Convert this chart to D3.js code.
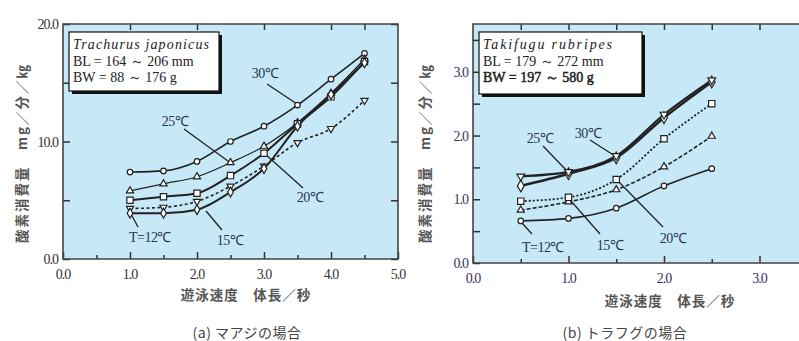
<!DOCTYPE html>
<html>
<head>
<meta charset="utf-8">
<script src="https://cdn.jsdelivr.net/npm/d3@7"></script>
<style>
  body { margin: 0; background: #fff; }
  svg { display: block; }
  .tick-label { font-family: "Liberation Serif", serif; font-size: 14px; fill: #333; letter-spacing: -1px; }
  .temp { font-family: "Liberation Serif", serif; font-size: 14px; fill: #2a3550; letter-spacing: -0.5px; }
  .box-text { font-family: "Liberation Serif", serif; font-size: 14px; fill: #222; }
  .cjk { font-family: "Noto Sans CJK JP", sans-serif; fill: #555; }
</style>
</head>
<body>
<svg id="chart" width="799" height="341"></svg>
<script>
// (a) マアジ  -- speed in body length / s
const speedA = [1.0, 1.5, 2.0, 2.5, 3.0, 3.5, 4.0, 4.5];
const a30 = [7.4, 7.5, 8.3, 10.0, 11.3, 13.1, 15.3, 17.5];
const a25 = [5.8, 6.4, 7.0, 8.2, 9.6, 11.6, 14.1, 17.0];
const a20 = [5.0, 5.3, 5.6, 7.1, 9.0, 11.5, 13.8, 16.8];
const aDot = [4.3, 4.4, 4.9, 6.2, 7.9, 9.9, 11.1, 13.5];
const a15 = [3.9, 3.9, 4.2, 5.7, 7.7, 11.3, 14.0, 16.7];

// (b) トラフグ
const speedB = [0.5, 1.0, 1.5, 2.0, 2.5];
const b12 = [0.66, 0.70, 0.86, 1.21, 1.48];
const b15 = [0.83, 0.96, 1.15, 1.51, 1.99];
const b20 = [0.97, 1.03, 1.31, 1.95, 2.50];
const b25 = [1.21, 1.40, 1.65, 2.28, 2.84];
const b30 = [1.36, 1.43, 1.68, 2.33, 2.87];

const xTicksA = [0, 1, 2, 3, 4, 5];
const yTicksA = [0, 10, 20];
const xTicksB = [0, 1, 2, 3];
const yTicksB = [0, 1, 2, 3];

const svg = d3.select("#chart");
const bg = "#c6e8f7";
const ink = "#222";

function drawPanel(p) {
	const g = svg.append("g");
	const x = d3.scaleLinear().domain(p.xDomain).range(p.xRange);
	const y = d3.scaleLinear().domain(p.yDomain).range(p.yRange);
	const [x0, x1] = p.xRange, [y0, y1] = p.yRange;

	g.append("rect").attr("x", x0).attr("y", y1).attr("width", x1 - x0).attr("height", y0 - y1).attr("fill", bg);

	// inward ticks
	const bottom = d3.axisTop(x).tickValues(d3.range(p.xDomain[0], p.xDomain[1] + 0.01, 0.5))
		.tickSize(0).tickFormat("");
	g.append("g").attr("transform", `translate(0,${y0})`).call(bottom).call(s => s.select(".domain").remove())
		.call(s => s.selectAll("text").remove())
		.selectAll(".tick line").attr("y2", d => (d % 1 === 0 ? -7 : -4)).attr("stroke", "#333").attr("stroke-width", 1.5);
	g.append("g").attr("transform", `translate(0,${y1})`)
		.call(d3.axisBottom(x).tickValues(p.topTicks).tickSize(6).tickFormat(""))
		.call(s => s.select(".domain").remove())
		.call(s => s.selectAll("text").remove())
		.selectAll(".tick line").attr("stroke", "#333").attr("stroke-width", 1.5);
	const yAll = d3.range(p.yDomain[0], p.yDomain[1] + 0.001, p.yMinor);
	g.append("g").attr("transform", `translate(${x0},0)`)
		.call(d3.axisRight(y).tickValues(yAll).tickSize(7).tickFormat(""))
		.call(s => s.select(".domain").remove())
		.call(s => s.selectAll("text").remove())
		.selectAll(".tick line").attr("stroke", "#333").attr("stroke-width", 1.5);
	if (p.rightBorder) {
		g.append("g").attr("transform", `translate(${x1},0)`)
			.call(d3.axisLeft(y).tickValues(yAll).tickSize(7).tickFormat(""))
			.call(s => s.select(".domain").remove())
			.call(s => s.selectAll("text").remove())
			.selectAll(".tick line").attr("stroke", "#333").attr("stroke-width", 1.5);
	}

	// frame
	g.append("path")
		.attr("d", p.rightBorder
			? `M${x0},${y0}V${y1}H${x1}V${y0}Z`
			: `M${x1},${y1}H${x0}V${y0}H${x1}`)
		.attr("fill", "none").attr("stroke", "#444").attr("stroke-width", 1.6);

	// tick labels
	g.selectAll(null).data(p.xTicks).join("text").attr("class", "tick-label")
		.attr("x", d => x(d)).attr("y", y0 + 20).attr("text-anchor", "middle").style("fill", p.labelColor).text(d => d.toFixed(1));
	g.selectAll(null).data(p.yTicks).join("text").attr("class", "tick-label")
		.attr("x", x0 - 5).attr("y", d => y(d) + 5).attr("text-anchor", "end").style("fill", p.labelColor).text(d => d.toFixed(1));

	// series
	const clip = "clip" + p.id;
	g.append("clipPath").attr("id", clip).append("rect")
		.attr("x", x0).attr("y", y1).attr("width", x1 - x0).attr("height", y0 - y1);
	const plot = g.append("g").attr("clip-path", `url(#${clip})`);
	const line = d3.line().curve(d3.curveMonotoneX).x(d => x(d[0])).y(d => y(d[1]));

	// pointer lines under the markers
	p.labels.forEach(l => {
		plot.append("line").attr("x1", l.from[0]).attr("y1", l.from[1]).attr("x2", l.to[0]).attr("y2", l.to[1])
			.attr("stroke", ink).attr("stroke-width", 1.3);
	});

	p.series.forEach(s => {
		const pts = p.speed.map((v, i) => [v, s.values[i]]);
		plot.append("path").datum(pts).attr("d", line).attr("fill", "none")
			.attr("stroke", ink).attr("stroke-width", s.width || 1.6)
			.attr("stroke-dasharray", s.dash || null);
	});
	p.series.forEach(s => {
		const pts = p.speed.map((v, i) => [v, s.values[i]]);
		plot.selectAll(null).data(pts).join("path")
			.attr("transform", d => `translate(${x(d[0])},${y(d[1])}) rotate(${s.rotate || 0})`)
			.attr("d", d3.symbol().type(s.symbol).size(s.size || 26))
			.attr("fill", "#fff").attr("stroke", ink).attr("stroke-width", 1.2);
	});

	p.labels.forEach(l => {
		g.append("text").attr("class", "temp").attr("x", l.at[0]).attr("y", l.at[1])
			.attr("text-anchor", "middle").text(l.text);
	});

	// species box
	const b = p.box;
	g.append("rect").attr("x", b.x + 3).attr("y", b.y + 3).attr("width", b.w).attr("height", b.h).attr("fill", "#111");
	g.append("rect").attr("x", b.x).attr("y", b.y).attr("width", b.w).attr("height", b.h)
		.attr("fill", "#fff").attr("stroke", "#111").attr("stroke-width", 1.2);
	b.lines.forEach((t, i) => {
		g.append("text").attr("class", "box-text").attr("x", b.x + 4).attr("y", b.y + 17 + i * 16.5)
			.style("font-style", i === 0 ? "italic" : "normal")
			.attr("textLength", i === 0 ? b.italicLen : null)
			.attr("lengthAdjust", "spacing")
			.style("stroke", i === 2 && p.id === "b" ? "#222" : null)
			.style("stroke-width", i === 2 && p.id === "b" ? 0.5 : null)
			.text(t);
	});

	// axis titles
	g.append("text").attr("class", "cjk").attr("transform", `translate(${p.yTitle[0]},${p.yTitle[1]}) rotate(-90)`)
		.attr("text-anchor", "middle").attr("dy", "0.35em").style("font-size", "13.5px").style("font-weight", "bold")
		.style("letter-spacing", "2px")
		.text("酸素消費量　mg／分／㎏");
	g.append("text").attr("class", "cjk").attr("x", p.xTitle[0]).attr("y", p.xTitle[1])
		.attr("text-anchor", "middle").style("font-size", "13.5px").style("font-weight", "bold")
		.style("letter-spacing", "1px")
		.text("遊泳速度　体長／秒");
	g.append("text").attr("class", "cjk").attr("x", p.caption[0]).attr("y", p.caption[1])
		.attr("text-anchor", "middle").style("font-size", "14px").style("fill", "#444").style("letter-spacing", "0.5px")
		.text(p.captionText);
}

drawPanel({
	id: "a",
	xDomain: [0, 5], xRange: [63, 398],
	yDomain: [0, 20], yRange: [259, 24], yMinor: 5,
	xTicks: xTicksA, yTicks: yTicksA, topTicks: [1, 2, 3, 4, 4.5],
	rightBorder: true, labelColor: "#333",
	speed: speedA,
	series: [
		{ values: a30, symbol: d3.symbolCircle, size: 24 },
		{ values: a25, symbol: d3.symbolTriangle, size: 22, width: 1.3 },
		{ values: a20, symbol: d3.symbolSquare, size: 40, width: 2 },
		{ values: aDot, symbol: d3.symbolTriangle, size: 22, rotate: 180, dash: "3,2.5", width: 1.6 },
		{ values: a15, symbol: d3.symbolDiamond, size: 28, width: 2 }
	],
	labels: [
		{ text: "30℃", at: [265, 78], from: [267, 84], to: [297, 104] },
		{ text: "25℃", at: [175, 126], from: [184, 129], to: [232, 164] },
		{ text: "20℃", at: [310, 202], from: [264, 153], to: [303, 188] },
		{ text: "15℃", at: [230, 245], from: [206, 211], to: [222, 230] },
		{ text: "T=12℃", at: [150, 242], from: [131, 214], to: [138, 227] }
	],
	box: { x: 69, y: 32, w: 150, h: 59, italicLen: 136, lines: ["Trachurus japonicus", "BL = 164 ～ 206 mm", "BW = 88 ～ 176 g"] },
	yTitle: [22, 153], xTitle: [246, 300], caption: [247, 338], captionText: "(a) マアジの場合"
});

drawPanel({
	id: "b",
	xDomain: [0, 3.5], xRange: [473, 807.25],
	yDomain: [0, 3.75], yRange: [263, 24], yMinor: 0.5,
	xTicks: xTicksB, yTicks: yTicksB, topTicks: [0.5, 1, 1.5, 2, 2.5, 3],
	rightBorder: false, labelColor: "#3b2f5e",
	speed: speedB,
	series: [
		{ values: b12, symbol: d3.symbolCircle, size: 24, width: 1.6 },
		{ values: b15, symbol: d3.symbolTriangle, size: 22, dash: "4,2", width: 1.6 },
		{ values: b20, symbol: d3.symbolSquare, size: 40, dash: "2,2", width: 1.8 },
		{ values: b25, symbol: d3.symbolDiamond, size: 40, width: 2.4 },
		{ values: b30, symbol: d3.symbolTriangle, size: 26, rotate: 180, width: 2.2 }
	],
	labels: [
		{ text: "25℃", at: [540, 143], from: [543, 146], to: [569, 173] },
		{ text: "30℃", at: [588, 138], from: [590, 140], to: [615, 156] },
		{ text: "T=12℃", at: [543, 252], from: [522, 223], to: [532, 234] },
		{ text: "15℃", at: [610, 250], from: [571, 201], to: [600, 234] },
		{ text: "20℃", at: [673, 243], from: [618, 181], to: [663, 227] }
	],
	box: { x: 479, y: 32, w: 163, h: 62, italicLen: 129, lines: ["Takifugu rubripes", "BL = 179 ～ 272 mm", "BW = 197 ～ 580 g"] },
	yTitle: [425, 153], xTitle: [670, 306], caption: [625, 338], captionText: "(b) トラフグの場合"
});
</script>
</body>
</html>
